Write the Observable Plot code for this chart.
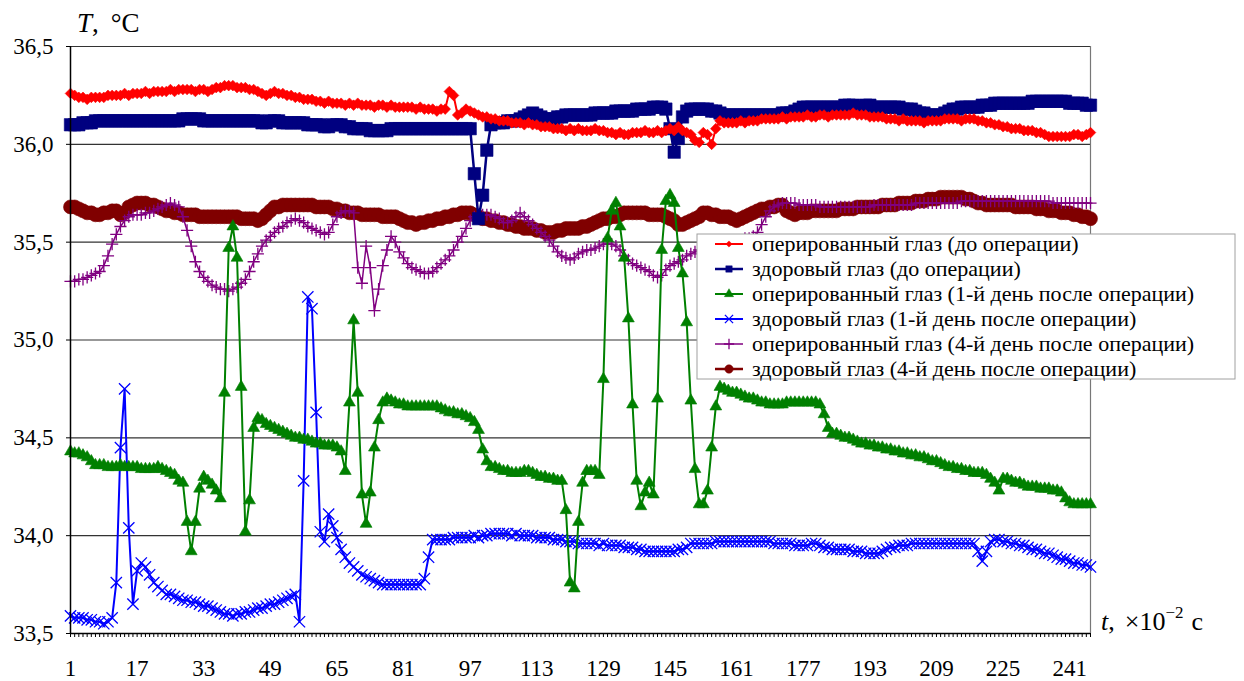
<!DOCTYPE html>
<html>
<head>
<meta charset="utf-8">
<script src="https://cdn.jsdelivr.net/npm/d3@7"></script>
<script src="https://cdn.jsdelivr.net/npm/@observablehq/plot@0.6"></script>
<style>
  body { margin: 0; background: #fff; }
  #chart { width: 1244px; height: 681px; }
</style>
</head>
<body>
<div id="chart"></div>
<script>
// Sample index, ×10^-2 s
const t = d3.range(1, 247);
const xTickLabels = d3.range(1, 247, 16);
const yTicks = [33.5, 34.0, 34.5, 35.0, 35.5, 36.0, 36.5];

// Operated eye, before surgery
const operatedBefore = [
36.26,36.25,36.24,36.24,36.23,36.24,36.24,36.24,36.24,36.25,
36.25,36.25,36.25,36.26,36.25,36.26,36.26,36.26,36.27,36.26,
36.27,36.27,36.27,36.27,36.28,36.27,36.28,36.28,36.28,36.28,
36.27,36.28,36.28,36.27,36.28,36.29,36.29,36.30,36.30,36.30,
36.29,36.29,36.29,36.28,36.28,36.27,36.26,36.25,36.26,36.27,
36.26,36.26,36.25,36.25,36.24,36.24,36.23,36.23,36.23,36.22,
36.22,36.21,36.22,36.21,36.21,36.21,36.20,36.21,36.20,36.21,
36.20,36.20,36.20,36.19,36.20,36.20,36.19,36.20,36.19,36.19,
36.19,36.19,36.19,36.18,36.19,36.18,36.18,36.18,36.17,36.18,
36.18,36.27,36.25,36.15,36.16,36.18,36.17,36.16,36.15,36.14,
36.14,36.13,36.13,36.12,36.12,36.12,36.11,36.11,36.11,36.10,
36.11,36.10,36.10,36.09,36.09,36.09,36.08,36.08,36.08,36.07,
36.08,36.07,36.08,36.07,36.07,36.07,36.08,36.07,36.07,36.06,
36.06,36.05,36.06,36.05,36.05,36.06,36.06,36.06,36.07,36.06,
36.06,36.07,36.06,36.07,36.08,36.07,36.09,36.07,36.06,36.05,
36.02,36.01,36.06,36.05,36.00,36.08,36.12,36.11,36.11,36.11,
36.11,36.12,36.11,36.12,36.12,36.12,36.13,36.13,36.13,36.13,
36.13,36.14,36.13,36.14,36.14,36.14,36.14,36.15,36.14,36.14,
36.15,36.15,36.14,36.15,36.15,36.15,36.15,36.15,36.16,36.15,
36.15,36.15,36.14,36.14,36.14,36.14,36.13,36.13,36.13,36.12,
36.13,36.12,36.12,36.12,36.12,36.11,36.12,36.12,36.12,36.12,
36.13,36.13,36.13,36.13,36.12,36.13,36.13,36.13,36.12,36.12,
36.11,36.11,36.10,36.10,36.09,36.09,36.08,36.08,36.08,36.07,
36.07,36.07,36.06,36.06,36.05,36.04,36.04,36.04,36.04,36.04,
36.04,36.05,36.05,36.04,36.05,36.06
];

// Healthy eye, before surgery
const healthyBefore = [
36.10,36.10,36.10,36.11,36.11,36.11,36.12,36.12,36.12,36.12,
36.12,36.12,36.12,36.12,36.12,36.12,36.12,36.12,36.12,36.12,
36.12,36.12,36.12,36.12,36.12,36.12,36.12,36.13,36.13,36.13,
36.13,36.13,36.12,36.12,36.12,36.12,36.12,36.12,36.12,36.12,
36.12,36.12,36.12,36.12,36.12,36.12,36.11,36.11,36.12,36.12,
36.12,36.11,36.11,36.11,36.11,36.11,36.11,36.10,36.10,36.10,
36.10,36.09,36.09,36.10,36.10,36.10,36.09,36.09,36.08,36.08,
36.08,36.08,36.07,36.07,36.07,36.07,36.07,36.08,36.08,36.08,
36.08,36.08,36.08,36.08,36.08,36.08,36.08,36.08,36.08,36.08,
36.08,36.08,36.08,36.08,36.08,36.08,36.08,35.85,35.62,35.74,
35.97,36.10,36.11,36.11,36.11,36.12,36.12,36.12,36.13,36.14,
36.15,36.16,36.15,36.14,36.13,36.13,36.13,36.14,36.14,36.15,
36.15,36.15,36.15,36.15,36.15,36.15,36.16,36.16,36.16,36.16,
36.16,36.17,36.17,36.17,36.17,36.17,36.18,36.18,36.18,36.18,
36.19,36.19,36.19,36.18,36.08,35.96,36.03,36.14,36.17,36.18,
36.18,36.18,36.18,36.18,36.17,36.17,36.16,36.15,36.15,36.15,
36.15,36.15,36.15,36.15,36.15,36.15,36.15,36.15,36.15,36.15,
36.15,36.16,36.16,36.16,36.17,36.18,36.19,36.19,36.19,36.19,
36.19,36.19,36.19,36.19,36.19,36.19,36.20,36.20,36.20,36.19,
36.19,36.20,36.20,36.19,36.19,36.19,36.19,36.19,36.19,36.19,
36.18,36.18,36.18,36.17,36.16,36.16,36.15,36.15,36.15,36.15,
36.16,36.17,36.18,36.18,36.19,36.19,36.19,36.19,36.19,36.20,
36.20,36.20,36.21,36.21,36.21,36.21,36.21,36.21,36.21,36.21,
36.21,36.22,36.22,36.22,36.22,36.22,36.22,36.22,36.22,36.22,
36.21,36.21,36.21,36.21,36.20,36.20
];

// Operated eye, day 1 after surgery
const operatedDay1 = [
34.43,34.42,34.42,34.41,34.40,34.38,34.36,34.36,34.36,34.35,
34.35,34.35,34.36,34.35,34.35,34.35,34.35,34.34,34.34,34.34,
34.34,34.35,34.34,34.33,34.32,34.31,34.28,34.27,34.07,33.92,
34.07,34.24,34.30,34.28,34.26,34.23,34.19,34.73,35.47,35.58,
35.42,34.76,34.02,34.18,34.55,34.60,34.59,34.57,34.56,34.55,
34.54,34.53,34.52,34.51,34.50,34.50,34.49,34.49,34.48,34.47,
34.47,34.46,34.46,34.46,34.45,34.43,34.33,34.68,35.10,34.73,
34.21,34.06,34.22,34.45,34.59,34.68,34.70,34.69,34.68,34.67,
34.67,34.66,34.66,34.66,34.66,34.66,34.66,34.66,34.66,34.65,
34.64,34.63,34.63,34.62,34.62,34.61,34.60,34.58,34.54,34.44,
34.38,34.35,34.35,34.34,34.33,34.33,34.32,34.32,34.32,34.33,
34.33,34.32,34.31,34.30,34.30,34.29,34.29,34.28,34.28,34.13,
33.76,33.73,34.07,34.27,34.33,34.33,34.33,34.31,34.80,35.52,
35.66,35.70,35.58,35.42,35.11,34.67,34.28,34.15,34.22,34.27,
34.21,34.70,35.46,35.71,35.74,35.70,35.47,35.34,35.09,34.69,
34.34,34.16,34.16,34.23,34.45,34.66,34.76,34.75,34.74,34.73,
34.73,34.72,34.71,34.70,34.70,34.69,34.68,34.68,34.67,34.67,
34.67,34.67,34.68,34.68,34.68,34.68,34.68,34.68,34.68,34.68,
34.67,34.62,34.55,34.52,34.52,34.51,34.50,34.50,34.49,34.48,
34.47,34.47,34.46,34.46,34.45,34.45,34.44,34.44,34.43,34.43,
34.42,34.42,34.41,34.41,34.40,34.40,34.39,34.38,34.38,34.37,
34.36,34.35,34.35,34.34,34.34,34.33,34.33,34.32,34.32,34.32,
34.31,34.29,34.27,34.23,34.29,34.29,34.28,34.27,34.27,34.26,
34.25,34.25,34.25,34.24,34.24,34.24,34.23,34.23,34.22,34.19,
34.17,34.16,34.16,34.16,34.16,34.16
];

// Healthy eye, day 1 after surgery
const healthyDay1 = [
33.59,33.58,33.58,33.58,33.57,33.57,33.56,33.56,33.55,33.56,
33.58,33.76,34.45,34.75,34.04,33.65,33.82,33.86,33.84,33.80,
33.76,33.74,33.72,33.70,33.70,33.69,33.68,33.67,33.67,33.66,
33.66,33.65,33.64,33.64,33.63,33.62,33.61,33.60,33.60,33.59,
33.60,33.60,33.61,33.61,33.62,33.63,33.63,33.64,33.65,33.65,
33.66,33.67,33.68,33.69,33.70,33.56,34.28,35.22,35.16,34.63,
34.02,33.97,34.11,34.05,33.99,33.93,33.89,33.86,33.84,33.82,
33.80,33.79,33.78,33.77,33.76,33.75,33.75,33.75,33.75,33.75,
33.75,33.75,33.75,33.75,33.75,33.78,33.89,33.98,33.98,33.98,
33.98,33.98,33.99,33.99,33.99,33.99,33.99,34.00,33.99,34.00,
34.00,34.01,34.01,34.01,34.01,34.01,34.00,34.01,34.00,34.00,
34.00,34.00,33.99,33.99,33.99,33.99,33.98,33.98,33.98,33.97,
33.97,33.97,33.96,33.96,33.96,33.96,33.96,33.95,33.96,33.95,
33.95,33.95,33.95,33.94,33.94,33.94,33.93,33.93,33.92,33.92,
33.92,33.92,33.92,33.92,33.92,33.92,33.93,33.93,33.94,33.96,
33.96,33.96,33.96,33.96,33.96,33.97,33.97,33.97,33.97,33.97,
33.97,33.97,33.97,33.97,33.97,33.97,33.97,33.97,33.97,33.96,
33.96,33.96,33.96,33.96,33.95,33.95,33.95,33.95,33.96,33.96,
33.95,33.94,33.94,33.93,33.93,33.93,33.93,33.93,33.92,33.92,
33.92,33.91,33.91,33.91,33.91,33.92,33.93,33.94,33.94,33.95,
33.95,33.95,33.96,33.96,33.96,33.96,33.96,33.96,33.96,33.96,
33.96,33.96,33.96,33.96,33.96,33.96,33.96,33.96,33.92,33.87,
33.92,33.97,33.98,33.98,33.97,33.97,33.96,33.96,33.95,33.95,
33.94,33.93,33.93,33.92,33.91,33.91,33.90,33.89,33.88,33.88,
33.87,33.86,33.86,33.85,33.85,33.84
];

// Operated eye, day 4 after surgery
const operatedDay4 = [
35.30,35.30,35.31,35.31,35.32,35.33,35.34,35.35,35.38,35.43,
35.49,35.54,35.58,35.61,35.63,35.64,35.64,35.64,35.65,35.65,
35.66,35.67,35.68,35.69,35.70,35.69,35.68,35.63,35.56,35.48,
35.40,35.35,35.32,35.30,35.28,35.27,35.26,35.26,35.25,35.26,
35.27,35.29,35.31,35.35,35.40,35.44,35.48,35.51,35.53,35.55,
35.57,35.58,35.60,35.61,35.62,35.61,35.60,35.58,35.57,35.56,
35.55,35.54,35.55,35.59,35.63,35.65,35.66,35.66,35.65,35.37,
35.29,35.48,35.37,35.15,35.26,35.38,35.46,35.53,35.50,35.45,
35.42,35.39,35.37,35.36,35.35,35.34,35.34,35.35,35.37,35.39,
35.41,35.43,35.46,35.50,35.53,35.57,35.61,35.63,35.64,35.64,
35.64,35.64,35.63,35.62,35.60,35.60,35.61,35.63,35.65,35.63,
35.61,35.59,35.57,35.55,35.53,35.51,35.48,35.45,35.43,35.42,
35.41,35.42,35.44,35.45,35.46,35.46,35.47,35.48,35.49,35.49,
35.49,35.48,35.46,35.43,35.41,35.39,35.38,35.37,35.36,35.35,
35.33,35.32,35.33,35.36,35.38,35.39,35.40,35.41,35.43,35.44,
35.45,35.46,35.47,35.47,35.48,35.48,35.49,35.49,35.50,35.50,
35.51,35.51,35.52,35.52,35.53,35.55,35.59,35.63,35.66,35.68,
35.69,35.70,35.70,35.70,35.70,35.69,35.69,35.69,35.69,35.69,
35.68,35.68,35.68,35.68,35.68,35.68,35.68,35.68,35.68,35.68,
35.68,35.68,35.68,35.69,35.69,35.69,35.69,35.69,35.69,35.69,
35.69,35.69,35.69,35.70,35.70,35.70,35.70,35.70,35.70,35.70,
35.70,35.70,35.70,35.70,35.71,35.71,35.71,35.71,35.71,35.71,
35.71,35.71,35.71,35.71,35.71,35.71,35.71,35.71,35.71,35.71,
35.71,35.71,35.71,35.71,35.71,35.71,35.70,35.70,35.70,35.70,
35.70,35.70,35.70,35.70,35.70,35.70
];

// Healthy eye, day 4 after surgery
const healthyDay4 = [
35.68,35.68,35.67,35.66,35.65,35.65,35.64,35.64,35.65,35.65,
35.66,35.66,35.64,35.65,35.68,35.69,35.70,35.70,35.70,35.69,
35.69,35.68,35.67,35.66,35.66,35.65,35.65,35.64,35.64,35.64,
35.64,35.63,35.63,35.63,35.63,35.63,35.63,35.63,35.63,35.63,
35.63,35.62,35.62,35.62,35.62,35.61,35.62,35.64,35.66,35.68,
35.68,35.69,35.69,35.69,35.69,35.69,35.69,35.69,35.69,35.68,
35.68,35.68,35.68,35.67,35.67,35.66,35.66,35.65,35.65,35.65,
35.64,35.64,35.64,35.64,35.64,35.63,35.63,35.63,35.63,35.62,
35.61,35.60,35.60,35.59,35.60,35.60,35.61,35.61,35.62,35.62,
35.63,35.63,35.64,35.64,35.65,35.65,35.65,35.64,35.63,35.62,
35.62,35.61,35.61,35.60,35.60,35.59,35.59,35.58,35.58,35.57,
35.57,35.57,35.56,35.56,35.55,35.55,35.55,35.56,35.56,35.57,
35.57,35.57,35.57,35.58,35.58,35.59,35.60,35.61,35.62,35.62,
35.63,35.63,35.64,35.65,35.65,35.65,35.65,35.65,35.65,35.64,
35.64,35.64,35.64,35.63,35.62,35.61,35.59,35.59,35.60,35.61,
35.62,35.63,35.65,35.65,35.64,35.64,35.63,35.63,35.63,35.62,
35.61,35.62,35.63,35.64,35.65,35.66,35.67,35.67,35.68,35.68,
35.69,35.69,35.66,35.65,35.64,35.65,35.65,35.65,35.66,35.66,
35.66,35.66,35.66,35.66,35.66,35.67,35.67,35.67,35.67,35.68,
35.68,35.68,35.68,35.68,35.68,35.69,35.69,35.69,35.69,35.70,
35.70,35.70,35.70,35.71,35.71,35.71,35.72,35.72,35.72,35.73,
35.73,35.73,35.73,35.73,35.73,35.72,35.72,35.71,35.70,35.70,
35.69,35.69,35.69,35.69,35.69,35.69,35.69,35.68,35.68,35.68,
35.68,35.68,35.67,35.67,35.67,35.66,35.66,35.66,35.65,35.65,
35.65,35.64,35.64,35.63,35.63,35.62
];

const seriesNames = [
  "оперированный глаз (до операции)",
  "здоровый глаз (до операции)",
  "оперированный глаз (1-й день после операции)",
  "здоровый глаз (1-й день после операции)",
  "оперированный глаз (4-й день после операции)",
  "здоровый глаз (4-й день после операции)"
];
const seriesValues = [operatedBefore, healthyBefore, operatedDay1, healthyDay1, operatedDay4, healthyDay4];

// Styling of each series: colour, marker symbol, marker radius, line width, legend marker radius
const styles = [
  {color: "#ff0000", symbol: "diamond2", r: 4.8, filled: true,  lw: 2,   lr: 2.8},
  {color: "#000080", symbol: "square",   r: 7.0, filled: true,  lw: 2.5, lr: 3.6},
  {color: "#008000", symbol: "triangle", r: 4.4, filled: true,  lw: 2,   lr: 3.4},
  {color: "#0000ff", symbol: "times",    r: 5.2, filled: false, lw: 2,   lr: 3.8},
  {color: "#800080", symbol: "plus",     r: 4.0, filled: false, lw: 1.5, lr: 3.4},
  {color: "#800000", symbol: "circle",   r: 7.0, filled: true,  lw: 2.5, lr: 4.2}
];

const series = seriesNames.map((name, k) => ({
  name,
  ...styles[k],
  data: t.map((ti, i) => ({t: ti, T: seriesValues[k][i]}))
}));

const fmt = d => d.toFixed(1).replace(".", ",");
const serif = "Liberation Serif";

// Marks of the last series go underneath, the first series on top
const seriesMarks = series.slice().reverse().flatMap(s => [
  Plot.line(s.data, {x: "t", y: "T", stroke: s.color, strokeWidth: s.lw}),
  Plot.dot(s.data, {
    x: "t", y: "T", symbol: () => s.symbol, r: s.r,
    fill: s.filled ? s.color : "none",
    stroke: s.color,
    strokeWidth: s.filled ? 0.6 : 1.3
  })
]);

const chart = Plot.plot({
  width: 1244,
  height: 681,
  marginLeft: 70,
  marginRight: 154,
  marginTop: 46,
  marginBottom: 48,
  style: {fontFamily: serif, fontSize: "23px", color: "#000", background: "#fff", overflow: "visible"},
  x: {domain: [1, 246]},
  y: {domain: [33.5, 36.5]},
  marks: [
    Plot.ruleY([34, 34.5, 35, 35.5, 36, 36.5], {stroke: "#333", strokeWidth: 1.2}),
    Plot.ruleX([246], {stroke: "#777", strokeWidth: 1.2}),
    ...seriesMarks,
    Plot.ruleY([33.5], {stroke: "#000", strokeWidth: 1.5}),
    Plot.ruleX([1], {stroke: "#000", strokeWidth: 1.5}),
    Plot.axisY(yTicks, {tickSize: 4, tickPadding: 13, tickFormat: fmt, label: null, fontSize: 23}),
    Plot.axisX(t, {tickSize: 4, tickPadding: 22, label: null, fontSize: 23,
      tickFormat: d => xTickLabels.includes(d) ? String(d) : ""})
  ]
});

document.getElementById("chart").appendChild(chart);

const svg = d3.select(chart);
svg.selectAll("text").attr("font-family", serif);

// Axis titles
const yTitle = svg.append("text").attr("x", 77).attr("y", 32).attr("text-anchor", "start")
  .attr("font-family", serif).attr("font-size", 27).attr("fill", "#000");
yTitle.append("tspan").attr("font-style", "italic").text("T");
yTitle.append("tspan").text(",");
yTitle.append("tspan").attr("dx", 12).text("°C");

const xTitle = svg.append("text").attr("x", 1101).attr("y", 630).attr("text-anchor", "start")
  .attr("font-family", serif).attr("font-size", 26).attr("fill", "#000");
xTitle.append("tspan").attr("font-style", "italic").text("t");
xTitle.append("tspan").text(",");
xTitle.append("tspan").attr("dx", 10).text("×10");
xTitle.append("tspan").attr("dy", -12).attr("font-size", 17).text("−2");
xTitle.append("tspan").attr("dy", 12).attr("dx", 8).text("c");

// Legend box drawn over the plot area
const lg = svg.append("g").attr("transform", "translate(697,234)");
lg.append("rect").attr("x", 0).attr("y", 0).attr("width", 538).attr("height", 145)
  .attr("fill", "#fff").attr("stroke", "#a0a0a0").attr("stroke-width", 1);
const symbolTypes = {
  diamond2: d3.symbolDiamond2, square: d3.symbolSquare, triangle: d3.symbolTriangle,
  times: d3.symbolTimes, plus: d3.symbolPlus, circle: d3.symbolCircle
};
series.forEach((s, k) => {
  const cy = 10 + k * 25;
  const row = lg.append("g").attr("transform", `translate(0,${cy})`);
  row.append("line").attr("x1", 18).attr("x2", 46).attr("y1", 0).attr("y2", 0)
    .attr("stroke", s.color).attr("stroke-width", s.lw);
  row.append("path")
    .attr("transform", "translate(32,0)")
    .attr("d", d3.symbol(symbolTypes[s.symbol], Math.PI * s.lr * s.lr)())
    .attr("fill", s.filled ? s.color : "none")
    .attr("stroke", s.color).attr("stroke-width", s.filled ? 0.5 : 1.3);
  row.append("text").attr("x", 55).attr("y", 0).attr("dy", "0.32em").attr("text-anchor", "start")
    .attr("font-family", serif).attr("font-size", 22).attr("fill", "#000")
    .text(s.name);
});
</script>
</body>
</html>
